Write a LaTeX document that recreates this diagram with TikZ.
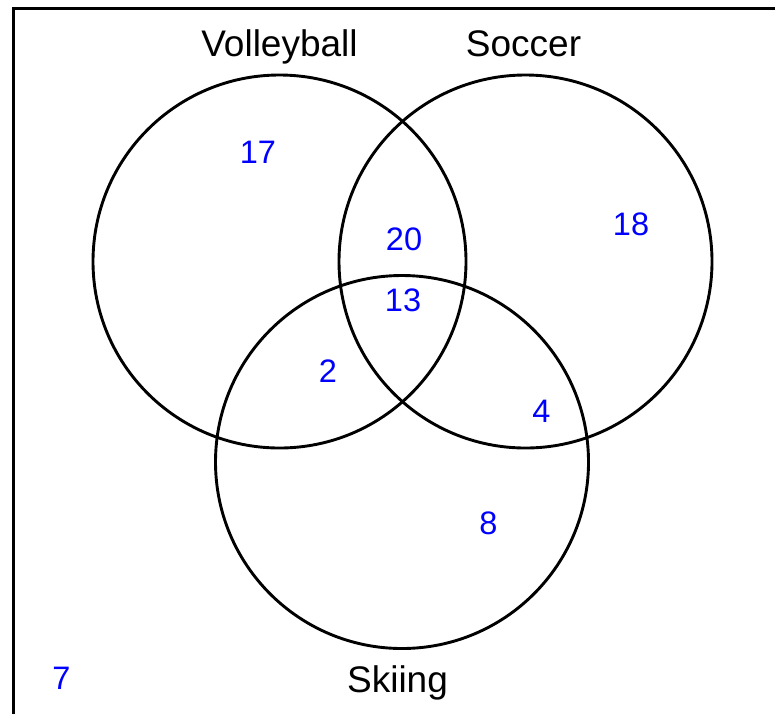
\documentclass[tikz,border=0pt]{standalone}
\usepackage{fontspec}
\setmainfont{Liberation Sans}
\begin{document}
\begin{tikzpicture}[x=1pt,y=-1pt,line join=round,line cap=round,
	setname/.style={inner sep=0pt,anchor=base,font=\fontsize{37}{42}\selectfont},
	count/.style={inner sep=0pt,text=blue,font=\fontsize{32.5}{38}\selectfont},
	ring/.style={line width=2.9pt}]
	\useasboundingbox (0,0) rectangle (775,713);
	\clip (0,0) rectangle (775,713);
	\path
	(279.5,261.5) coordinate (V)
	(525.5,261.5) coordinate (S)
	(402,462) coordinate (K);
	
	% universe
	\draw[line width=3.4pt,line cap=butt,line join=miter] (13.5,8.5) rectangle (800,740);
	
	\foreach \c in {V,S,K} {
		\draw[ring] (\c) circle[radius=186.5pt];
	}
	
	\node[setname] (volley) at (279.5,56) {Volleyball};
	\node[setname] (soccer) at (523.5,56) {Soccer};
	\node[setname] (skiing) at (397.5,692.5) {Skiing};
	
	\foreach \n/\x/\y in {17/258/152,18/631/224,20/404/239,13/403/300,2/328/371,4/541.5/411,8/488.5/523,7/61.5/678} {
		\node[count] (n\n) at (\x,\y) {\n};
	}
\end{tikzpicture}
\end{document}
